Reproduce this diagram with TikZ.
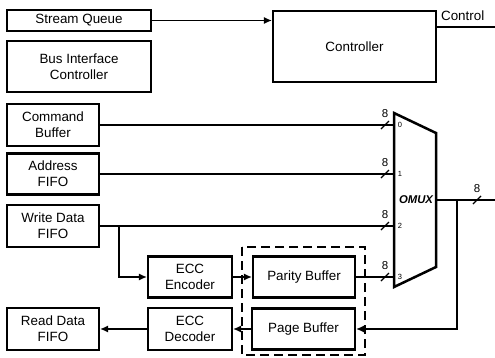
\documentclass[tikz,border=0pt]{standalone}
\usepackage{fontspec}
\setmainfont{Liberation Sans}
\usetikzlibrary{arrows.meta}
\tikzset{
  blk/.style={draw, line width=2.2pt, align=center, inner sep=0pt,
    font=\fontsize{13.4}{16}\selectfont},
  wire/.style={line width=1.2pt},
  bw/.style={font=\fontsize{11.5}{12}\selectfont, inner sep=0pt},
  sel/.style={font=\fontsize{7.5}{8}\selectfont, inner sep=0pt},
}
\begin{document}
\begin{tikzpicture}[x=1pt,y=-1pt,>={Latex[length=8pt,width=7pt]}]
\useasboundingbox (0,0) rectangle (495,357);
% Blokken links
\node[blk, minimum width=144, minimum height=21] (sq) at (79,20.5) {Stream Queue};
\node[blk, minimum width=144, minimum height=51] (bic) at (79,66.5) {Bus Interface\\Controller};
\node[blk, minimum width=92, minimum height=42] (cmd) at (53,125) {Command\\Buffer};
\node[blk, minimum width=92, minimum height=41] (adr) at (53,174) {Address\\FIFO};
\node[blk, minimum width=92, minimum height=42] (wd) at (53,226) {Write Data\\FIFO};
\node[blk, minimum width=92, minimum height=42] (rd) at (53,329) {Read Data\\FIFO};
% ECC
\node[blk, minimum width=84, minimum height=41] (enc) at (190,277) {ECC\\Encoder};
\node[blk, minimum width=84, minimum height=42] (dec) at (190,329) {ECC\\Decoder};
% Buffers
\node[blk, minimum width=102, minimum height=41] (par) at (304,277) {Parity Buffer};
\node[blk, minimum width=103, minimum height=41] (pb) at (303.5,329) {Page Buffer};
\draw[wire, dash pattern=on 9pt off 5pt] (242,247) rectangle (365,355);
% Controller
\node[blk, minimum width=163, minimum height=71] (ctrl) at (354.5,46.5) {Controller};
\draw[wire,->] (sq.east) -- (sq.east -| ctrl.west);
\coordinate (ctl) at (495,27);
\draw[wire] (ctrl.east |- ctl) -- (ctl);
\node[blk, draw=none, anchor=west] (ctltxt) at (440,16) {Control};
% OMUX
\draw[line width=2.5pt] (394,113) -- (436,133) -- (436,267) -- (394,287) -- cycle;
\node[font=\fontsize{11.3}{12}\bfseries\itshape\selectfont, inner sep=0pt] (omux) at (416,200) {OMUX};
\coordinate (m0) at (394,125);
\coordinate (m1) at (394,174);
\coordinate (m2) at (394,226);
\coordinate (m3) at (394,277);
\draw[wire] (cmd.east) -- (m0);
\draw[wire] (adr.east) -- (m1);
\draw[wire] (wd.east) -- (m2);
\draw[wire] (par.east) -- (m3);
\foreach \y/\n in {125/0,174/1,226/2,277/3} {
  \draw[wire] (381,\y+4) -- (389,\y-4);
  \node[bw] (w\n) at (385,\y-11) {8};
  \node[sel] (s\n) at (400,\y) {\n};
}
% Schrijfpad naar ECC
\coordinate (wtap) at (119,226);
\draw[wire,->] (wtap) |- (enc.west);
\draw[wire,->] (enc.east) -- (par.west);
% Uitgang en leespad
\coordinate (mo) at (436,200);
\coordinate (out) at (495,200);
\coordinate (tap) at (457,200);
\draw[wire] (mo) -- (out);
\draw[wire] (473,204) -- (481,196);
\node[bw] (wo) at (477,189) {8};
\draw[wire,->] (tap) |- (pb.east);
\draw[wire,->] (pb.west) -- (dec.east);
\draw[wire,->] (dec.west) -- (rd.east);
\end{tikzpicture}
\end{document}
